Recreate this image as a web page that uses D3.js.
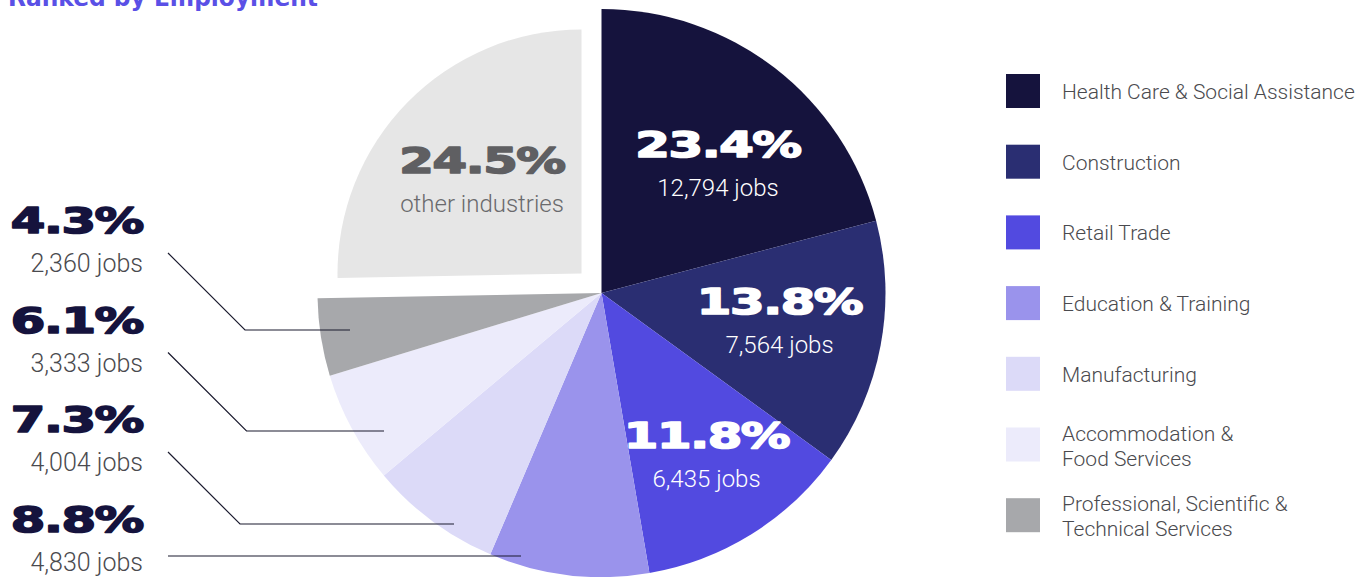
<!DOCTYPE html>
<html>
<head>
<meta charset="utf-8">
<script src="https://cdn.jsdelivr.net/npm/d3@7"></script>
<style>
  body { margin: 0; background: #fff; }
  svg { display: block; }
</style>
</head>
<body>
<div id="chart"></div>
<script>
// data
const industries = [
  "Health Care & Social Assistance", "Construction", "Retail Trade",
  "Education & Training", "Manufacturing", "Accommodation & Food Services",
  "Professional, Scientific & Technical Services", "other industries"
];
const legendLines = [
  ["Health Care & Social Assistance"], ["Construction"], ["Retail Trade"],
  ["Education & Training"], ["Manufacturing"], ["Accommodation &", "Food Services"],
  ["Professional, Scientific &", "Technical Services"]
];
const pctText = ["23.4%", "13.8%", "11.8%", "8.8%", "7.3%", "6.1%", "4.3%", "24.5%"];
const jobs = [12794, 7564, 6435, 4830, 4004, 3333, 2360, null];
// share of the circle each slice takes as drawn (percent)
const sliceShare = [20.9, 14.1, 12.3, 9.1, 7.5, 6.4, 4.4, 25.3];
const colors = ["#15133d", "#2a2e72", "#524ae0", "#9a93ec", "#dcdaf8", "#ecebfb", "#a7a8ab", "#e6e6e6"];

const width = 1369, height = 577;
const cx = 601.5, cy = 293, radius = 284;
const otherRadius = 244, explode = 28;
const pctScale = 1.38;
const fmt = d3.format(",");

const svg = d3.select("#chart").append("svg")
  .attr("width", width)
  .attr("height", height);

// title, mostly cut off at the top edge
svg.append("text")
  .attr("x", 8)
  .attr("y", 6)
  .attr("textLength", 310)
  .attr("lengthAdjust", "spacingAndGlyphs")
  .style("font-family", "DejaVu Sans")
  .style("font-weight", "bold")
  .style("font-size", "24px")
  .attr("fill", "#5a50e6")
  .text("Ranked by Employment");

const pie = d3.pie().sort(null).value(d => d)(sliceShare);
const arc = d3.arc().innerRadius(0);

const g = svg.append("g").attr("transform", `translate(${cx},${cy})`);

g.selectAll("path")
  .data(pie)
  .join("path")
  .attr("fill", (d, i) => colors[i])
  .attr("d", (d, i) => arc.outerRadius(i === 7 ? otherRadius : radius)(d))
  .attr("transform", (d, i) => {
    if (i !== 7) return null;
    const a = (d.startAngle + d.endAngle) / 2;
    return `translate(${Math.sin(a) * explode},${-Math.cos(a) * explode})`;
  });

function bigPct(sel, x, y, anchor, color, text) {
  sel.append("text")
    .attr("transform", `translate(${x},${y}) scale(${pctScale},1)`)
    .attr("text-anchor", anchor)
    .style("font-family", "DejaVu Sans")
    .style("font-weight", "bold")
    .style("font-size", "36px")
    .style("letter-spacing", "-1px")
    .attr("fill", color)
    .attr("stroke", color)
    .attr("stroke-width", 1.6)
    .attr("stroke-linejoin", "round")
    .text(text);
}

// labels inside the pie
const insideLabels = [
  { i: 0, x: 718, y: 157, fill: "#fff", sub: "#fff" },
  { i: 1, x: 779.5, y: 314, fill: "#fff", sub: "#fff" },
  { i: 2, x: 706.5, y: 448, fill: "#fff", sub: "#fff" },
  { i: 7, x: 482, y: 173, fill: "#5f5f62", sub: "#6a6a6d" }
];

insideLabels.forEach(l => {
  bigPct(svg, l.x, l.y, "middle", l.fill, pctText[l.i]);
  svg.append("text")
    .attr("x", l.x)
    .attr("y", l.y + 39)
    .attr("text-anchor", "middle")
    .style("font-family", "Roboto")
    .style("font-weight", 300)
    .style("font-size", "24px")
    .attr("fill", l.sub)
    .text(jobs[l.i] == null ? industries[l.i] : fmt(jobs[l.i]) + " jobs");
});

// labels on the left with leader lines
const outside = [
  { i: 6, lineY: 330, endX: 350 },
  { i: 5, lineY: 431, endX: 384 },
  { i: 4, lineY: 524, endX: 454 },
  { i: 3, lineY: 556, endX: 521 }
];
const line = d3.line();

outside.forEach((l, row) => {
  const base = 233 + row * 99.5;
  bigPct(svg, 143, base, "end", "#15133d", pctText[l.i]);
  svg.append("text")
    .attr("x", 143)
    .attr("y", base + 39)
    .attr("text-anchor", "end")
    .style("font-family", "Roboto")
    .style("font-weight", 300)
    .style("font-size", "25px")
    .attr("fill", "#4a4a4e")
    .text(fmt(jobs[l.i]) + " jobs");

  const startY = base + 20;
  const pts = (l.lineY - startY > 10)
    ? [[168, startY], [168 + (l.lineY - startY), l.lineY], [l.endX, l.lineY]]
    : [[168, l.lineY], [l.endX, l.lineY]];
  svg.append("path")
    .attr("d", line(pts))
    .attr("fill", "none")
    .attr("stroke", "#1b1b2f")
    .attr("stroke-width", 1.2);
});

// legend
const legend = svg.append("g").attr("transform", "translate(1006,74)");
const item = legend.selectAll("g")
  .data(legendLines)
  .join("g")
  .attr("transform", (d, i) => `translate(0,${i * 70.7})`);

item.append("rect")
  .attr("width", 34)
  .attr("height", 34)
  .attr("fill", (d, i) => colors[i]);

item.append("text")
  .attr("x", 56)
  .attr("y", d => d.length === 1 ? 25 : 13)
  .style("font-family", "Roboto")
  .style("font-weight", 300)
  .style("font-size", "21px")
  .attr("fill", "#4a4a4e")
  .selectAll("tspan")
  .data(d => d)
  .join("tspan")
  .attr("x", 56)
  .attr("dy", (d, i) => i === 0 ? 0 : 25)
  .text(d => d);
</script>
</body>
</html>
